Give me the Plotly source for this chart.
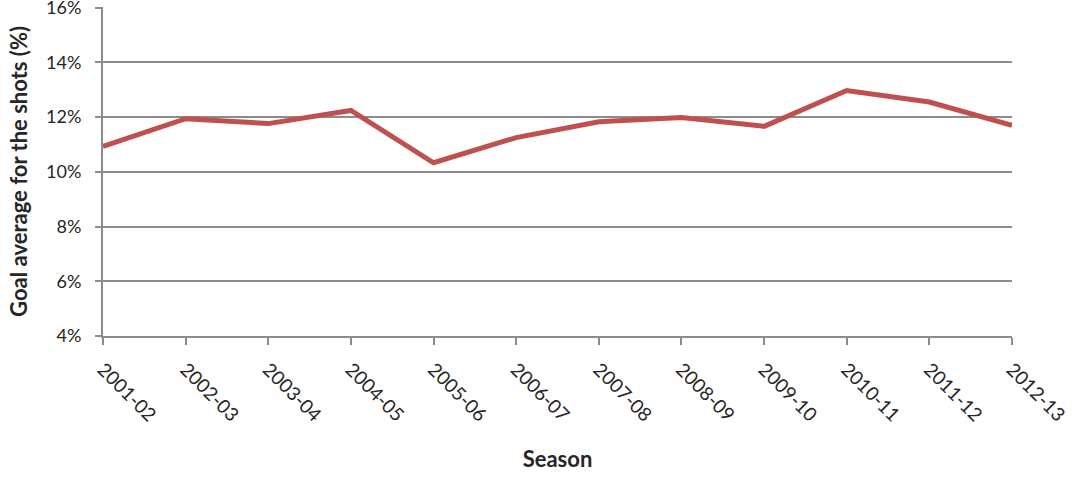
import plotly.graph_objects as go

seasons = ["2001-02", "2002-03", "2003-04", "2004-05", "2005-06", "2006-07",
           "2007-08", "2008-09", "2009-10", "2010-11", "2011-12", "2012-13"]
goal_avg = [10.93, 11.94, 11.76, 12.24, 10.33, 11.25, 11.83, 11.98, 11.66, 12.97, 12.55, 11.70]
y_ticks = [4, 6, 8, 10, 12, 14, 16]
y_tick_labels = [f"{v}%" for v in y_ticks]

FONT = "Lato"
GRID = "#8c8c8c"
TXT = "#262626"

fig = go.Figure()
fig.add_trace(go.Scatter(
    x=list(range(len(seasons))), y=goal_avg, mode="lines",
    line=dict(color="#C0504D", width=5),
    hoverinfo="skip", showlegend=False,
))

fig.update_layout(
    width=1088, height=488,
    margin=dict(l=103, r=76, t=7, b=152),
    paper_bgcolor="white", plot_bgcolor="white",
    font=dict(family=FONT, size=18, color=TXT),
    xaxis=dict(
        range=[0, len(seasons) - 1],
        automargin=False,
        tickmode="array", tickvals=list(range(len(seasons))), ticktext=seasons,
        tickangle=45, ticks="outside", ticklen=7, tickcolor=GRID, tickwidth=2,
        ticklabelstandoff=6,
        showline=True, linecolor=GRID, linewidth=2,
        showgrid=False, zeroline=False,
        tickfont=dict(family=FONT, size=19, color=TXT),
        title=dict(text="<b>Season</b>", font=dict(family=FONT, size=22, color=TXT), standoff=27),
    ),
    yaxis=dict(
        range=[4, 16.02],
        automargin=False,
        tickmode="array", tickvals=y_ticks, ticktext=y_tick_labels,
        ticks="outside", ticklen=6, tickcolor=GRID, tickwidth=2,
        ticklabelstandoff=10,
        showline=True, linecolor=GRID, linewidth=2,
        showgrid=True, gridcolor=GRID, gridwidth=2, zeroline=False,
        ticklabeloverflow="allow",
        tickfont=dict(family=FONT, size=18, color=TXT),
        title=dict(text="<b>Goal average for the shots (%)</b>", font=dict(family=FONT, size=22, color=TXT), standoff=12),
    ),
)

fig.write_html("out.html")
